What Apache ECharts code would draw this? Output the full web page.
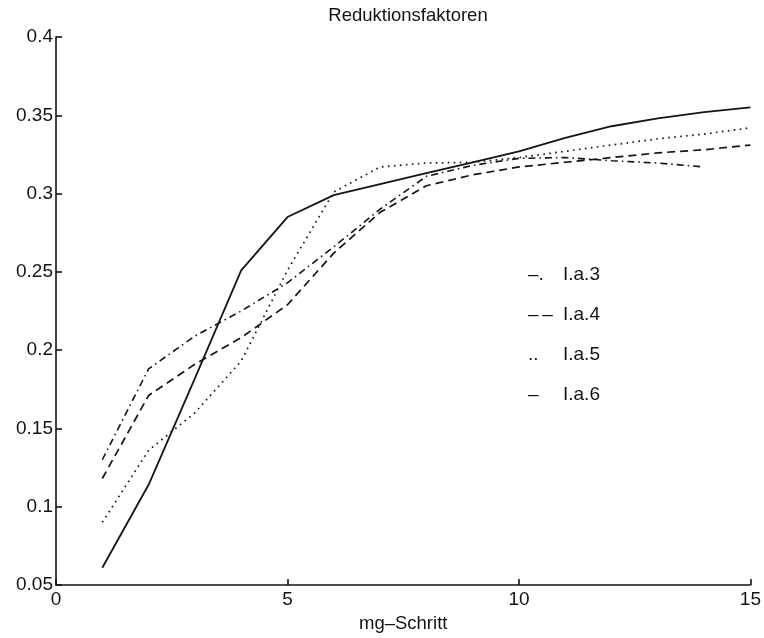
<!DOCTYPE html>
<html>
<head>
<meta charset="utf-8">
<script src="https://cdn.jsdelivr.net/npm/echarts@6/dist/echarts.min.js"></script>
<style>
html,body{margin:0;padding:0;background:#fff;}
#chart{width:764px;height:638px;}
</style>
</head>
<body>
<div id="chart"></div>
<script>
// mg-Schritt steps
const steps = [1,2,3,4,5,6,7,8,9,10,11,12,13,14,15];
// Reduktionsfaktoren per variant
const la3 = [0.130,0.188,0.209,0.225,0.243,0.266,0.290,0.311,0.318,0.3225,0.323,0.321,0.3195,0.317];
const la4 = [0.118,0.171,0.191,0.208,0.229,0.262,0.288,0.305,0.312,0.317,0.320,0.323,0.326,0.328,0.331];
const la5 = [0.090,0.136,0.160,0.193,0.251,0.301,0.317,0.3195,0.320,0.323,0.327,0.331,0.335,0.338,0.342];
const la6 = [0.061,0.114,0.182,0.251,0.285,0.299,0.306,0.313,0.320,0.327,0.3355,0.343,0.348,0.352,0.355];
const seriesNames = ['I.a.3','I.a.4','I.a.5','I.a.6'];
const legendMarks = ['–.','–\u2009–','..','–'];
const xTicks = [0,5,10,15];
const yTicks = ['0.05','0.1','0.15','0.2','0.25','0.3','0.35','0.4'];

const FONT = '"Liberation Sans", Arial, Helvetica, sans-serif';
const INK = '#141414';

function pairs(vals){ return vals.map((v,i)=>[steps[i], v]); }

const styles = [
  {type:[7,4,1.5,4], width:1.6},
  {type:[8,5], width:1.7},
  {type:[1.6,4.4], width:1.7},
  {type:'solid', width:1.8}
];
const allData = [la3, la4, la5, la6];

const chart = echarts.init(document.getElementById('chart'), null, {renderer:'canvas'});
chart.setOption({
  animation:false,
  backgroundColor:'#fff',
  title:{
    text:'Reduktionsfaktoren',
    left:408, textAlign:'center', top:6, padding:0,
    textStyle:{fontFamily:FONT, fontSize:18.5, fontWeight:'normal', color:INK}
  },
  legend:{
    left:518, top:260, orient:'vertical', itemGap:21,
    itemWidth:0, itemHeight:0, icon:'rect',
    data:seriesNames,
    formatter:function(name){
      const i = seriesNames.indexOf(name);
      return '{m|' + legendMarks[i] + '}{n|' + name + '}';
    },
    textStyle:{
      fontFamily:FONT, fontSize:19, color:INK,
      rich:{
        m:{width:35, height:20, fontFamily:FONT, fontSize:19, color:INK},
        n:{height:20, fontFamily:FONT, fontSize:19, color:INK}
      }
    },
    selectedMode:false
  },
  grid:{left:56, right:12, top:37, bottom:51},
  xAxis:{
    type:'value', min:0, max:15, interval:5,
    name:'mg–Schritt', nameLocation:'middle', nameGap:29,
    nameTextStyle:{fontFamily:FONT, fontSize:18.5, color:INK},
    axisLine:{show:true, onZero:false, lineStyle:{color:INK, width:1.6}},
    axisTick:{show:true, inside:true, length:6, lineStyle:{color:INK, width:1.6}},
    axisLabel:{margin:5, fontFamily:FONT, fontSize:19, color:INK,
      formatter:function(v){ return xTicks.indexOf(v) >= 0 ? String(v) : ''; }},
    splitLine:{show:false}
  },
  yAxis:{
    type:'value', min:0.05, max:0.4, interval:0.05,
    axisLine:{show:true, onZero:false, lineStyle:{color:INK, width:1.6}},
    axisTick:{show:true, inside:true, length:6, lineStyle:{color:INK, width:1.6}},
    axisLabel:{margin:3, fontFamily:FONT, fontSize:19, color:INK,
      formatter:function(v){
        const idx = Math.round((v - 0.05)/0.05);
        return yTicks[idx] !== undefined ? yTicks[idx] : '';
      }},
    splitLine:{show:false}
  },
  series: seriesNames.map((n,i)=>({
    name:n, type:'line', data:pairs(allData[i]),
    showSymbol:false, symbol:'none',
    color:INK,
    lineStyle:{color:INK, width:styles[i].width, type:styles[i].type}
  }))
});
</script>
</body>
</html>
